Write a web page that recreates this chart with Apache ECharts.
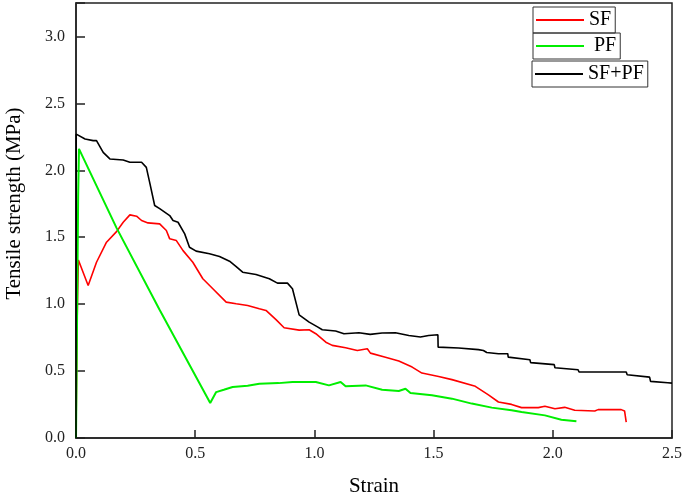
<!DOCTYPE html>
<html>
<head>
<meta charset="utf-8">
<script src="https://cdn.jsdelivr.net/npm/echarts@6/dist/echarts.min.js"></script>
<style>html,body{margin:0;padding:0;background:#fff}#c{width:685px;height:495px}</style>
</head>
<body>
<div id="c"></div>
<script>
const seriesNames = ['SF', 'PF', 'SF+PF'];
const xTicks = [0, 0.5, 1.0, 1.5, 2.0, 2.5];
const yTicks = [0, 0.5, 1.0, 1.5, 2.0, 2.5, 3.0];
const sfData = [[0,0],[0.004,0.8],[0.007,1.1],[0.01,1.33],[0.051,1.14],[0.086,1.313],[0.128,1.463],[0.17,1.542],[0.198,1.612],[0.226,1.667],[0.254,1.657],[0.275,1.625],[0.302,1.607],[0.351,1.6],[0.379,1.55],[0.393,1.488],[0.421,1.475],[0.449,1.4],[0.49,1.313],[0.532,1.19],[0.574,1.115],[0.63,1.015],[0.672,1.003],[0.72,0.99],[0.769,0.966],[0.797,0.953],[0.839,0.884],[0.873,0.824],[0.936,0.806],[0.978,0.809],[1.006,0.779],[1.048,0.716],[1.075,0.692],[1.131,0.674],[1.18,0.654],[1.222,0.667],[1.235,0.634],[1.298,0.604],[1.354,0.575],[1.41,0.53],[1.451,0.485],[1.521,0.46],[1.577,0.436],[1.675,0.386],[1.73,0.322],[1.772,0.269],[1.827,0.251],[1.869,0.227],[1.939,0.227],[1.967,0.237],[2.009,0.219],[2.05,0.229],[2.092,0.207],[2.176,0.202],[2.19,0.212],[2.287,0.212],[2.301,0.202],[2.308,0.119]];
const pfData = [[0,0],[0.006,1.2],[0.009,1.8],[0.0125,2.16],[0.17,1.57],[0.35,0.96],[0.563,0.261],[0.588,0.343],[0.62,0.36],[0.657,0.381],[0.72,0.39],[0.769,0.406],[0.85,0.41],[0.908,0.418],[1.006,0.418],[1.061,0.393],[1.11,0.418],[1.131,0.386],[1.215,0.393],[1.284,0.361],[1.354,0.351],[1.382,0.368],[1.403,0.336],[1.493,0.319],[1.577,0.294],[1.66,0.257],[1.744,0.227],[1.827,0.207],[1.869,0.194],[1.967,0.169],[2.036,0.137],[2.099,0.125]];
const sfpfData = [[0,0],[0.001,2.27],[0.003,2.259],[0.038,2.234],[0.072,2.222],[0.086,2.222],[0.114,2.134],[0.142,2.085],[0.198,2.077],[0.226,2.06],[0.275,2.06],[0.295,2.022],[0.309,1.91],[0.33,1.737],[0.351,1.714],[0.393,1.662],[0.407,1.625],[0.428,1.612],[0.456,1.525],[0.476,1.425],[0.504,1.396],[0.56,1.376],[0.602,1.356],[0.644,1.321],[0.672,1.281],[0.699,1.239],[0.755,1.222],[0.811,1.19],[0.845,1.157],[0.887,1.157],[0.908,1.115],[0.936,0.92],[0.978,0.866],[1.013,0.83],[1.033,0.809],[1.089,0.799],[1.124,0.779],[1.187,0.786],[1.234,0.774],[1.284,0.784],[1.34,0.786],[1.396,0.766],[1.445,0.754],[1.479,0.766],[1.518,0.771],[1.519,0.679],[1.605,0.672],[1.688,0.66],[1.709,0.654],[1.723,0.639],[1.772,0.63],[1.811,0.63],[1.813,0.604],[1.904,0.585],[1.907,0.563],[2.006,0.548],[2.009,0.525],[2.106,0.51],[2.11,0.493],[2.308,0.493],[2.312,0.473],[2.406,0.455],[2.41,0.423],[2.482,0.413],[2.5,0.41]];
const colors = ['#ff0000', '#00ee00', '#000000'];

const font = 'Liberation Serif';
const chart = echarts.init(document.getElementById('c'));
function fmt(v, ticks) {
  return ticks.some(t => Math.abs(t - v) < 1e-6) ? v.toFixed(1) : '';
}
function legendBox(i, left, top) {
  return {
    data: [seriesNames[i]], left: left, top: top, orient: 'horizontal',
    icon: 'rect', itemWidth: 48, itemHeight: 2, itemGap: 0,
    borderColor: '#333', borderWidth: 1, borderRadius: 0,
    padding: [3, 4, 3, 3],
    formatter: n => (n === 'PF' ? ' ' + n : n),
    textStyle: { fontFamily: font, fontSize: 20, color: '#000', padding: [0, 0, 0, 0] },
    selectedMode: false
  };
}
chart.setOption({
  animation: false,
  grid: { left: 76, right: 13, top: 3, bottom: 57, show: true, borderColor: '#222', borderWidth: 1.5, outerBoundsMode: 'none', containLabel: false },
  legend: [legendBox(0, 533, 7), legendBox(1, 533, 33), legendBox(2, 532, 61)],
  xAxis: {
    type: 'value', min: 0, max: 2.5, interval: 0.5,
    name: 'Strain', nameLocation: 'middle', nameGap: 38,
    nameTextStyle: { fontFamily: font, fontSize: 21, color: '#000' },
    axisLine: { lineStyle: { color: '#222', width: 1.5 } },
    axisTick: { inside: true, length: 8, lineStyle: { color: '#222', width: 1.5 } },
    axisLabel: { fontFamily: font, fontSize: 16, color: '#222', margin: 8, formatter: v => fmt(v, xTicks) },
    splitLine: { show: false }
  },
  yAxis: {
    type: 'value', min: 0, max: 3.25, interval: 0.5,
    name: 'Tensile strength (MPa)', nameLocation: 'middle', nameGap: 51,
    nameTextStyle: { fontFamily: font, fontSize: 21, color: '#000', padding: [0, 0, 0, 34] },
    axisLine: { lineStyle: { color: '#222', width: 1.5 } },
    axisTick: { inside: true, length: 9, lineStyle: { color: '#222', width: 1.5 } },
    axisLabel: { fontFamily: font, fontSize: 16, color: '#222', margin: 11, formatter: v => fmt(v, yTicks) },
    splitLine: { show: false }
  },
  series: [
    { name: seriesNames[0], type: 'line', data: sfData, showSymbol: false, lineStyle: { color: colors[0], width: 1.6 }, itemStyle: { color: colors[0] } },
    { name: seriesNames[1], type: 'line', data: pfData, showSymbol: false, lineStyle: { color: colors[1], width: 2 }, itemStyle: { color: colors[1] } },
    { name: seriesNames[2], type: 'line', data: sfpfData, showSymbol: false, lineStyle: { color: colors[2], width: 1.6 }, itemStyle: { color: colors[2] } }
  ]
});
</script>
</body>
</html>
